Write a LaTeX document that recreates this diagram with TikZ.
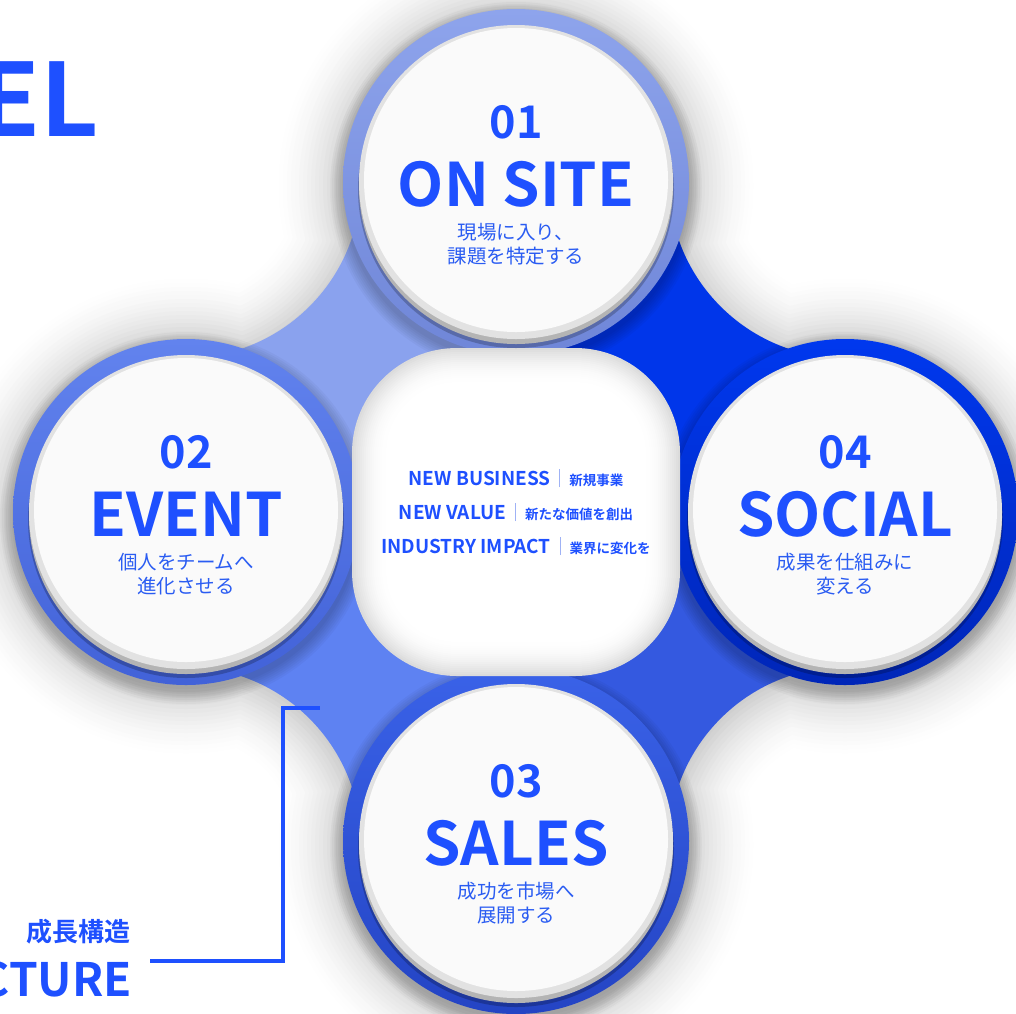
\documentclass[tikz,border=0pt]{standalone}
\usepackage{fontspec}
\setmainfont{Noto Sans CJK JP}[BoldFont={Noto Sans CJK JP Bold}]
\definecolor{txtblue}{HTML}{1E50FF}
\definecolor{subblue}{HTML}{2A5CF2}
\definecolor{barc}{HTML}{9FB2F5}
\definecolor{qTL}{HTML}{8AA2EE}
\definecolor{qTR}{HTML}{0036EA}
\definecolor{qBL}{HTML}{5E82F2}
\definecolor{qBR}{HTML}{3459E0}
\definecolor{rimdark}{HTML}{B4B4B4}
\definecolor{rimlight}{HTML}{E2E2E2}
\definecolor{face}{HTML}{FAFAFA}
\definecolor{r1t}{HTML}{8EA4EC}\definecolor{r1b}{HTML}{6F86D8}
\definecolor{r2t}{HTML}{6283EE}\definecolor{r2b}{HTML}{4262D8}
\definecolor{r4t}{HTML}{0038EE}\definecolor{r4b}{HTML}{0026B8}
\definecolor{r3t}{HTML}{3A62E8}\definecolor{r3b}{HTML}{2444C4}
\newcommand\sepbar{\hspace{9pt}{\color{barc}\rule[-2pt]{1pt}{18pt}}\hspace{9pt}}
\newcommand\midjpfont{\bfseries\fontsize{13.5}{13.5}\selectfont}
\begin{document}
\begin{tikzpicture}[x=1pt,y=-1pt,
  numtxt/.style={font=\bfseries\fontsize{45}{45}\selectfont, text=txtblue, anchor=base, inner sep=0pt},
  ttltxt/.style={font=\bfseries\fontsize{60}{60}\selectfont, text=txtblue, anchor=base, inner sep=0pt},
  subtxt/.style={font=\fontsize{19.5}{20}\selectfont, text=subblue, anchor=base, inner sep=0pt},
  midtxt/.style={font=\bfseries\fontsize{19}{19}\selectfont, text=txtblue, anchor=base, inner sep=0pt},
  bigtxt/.style={font=\bfseries, text=txtblue, inner sep=0pt},
  conn/.style={draw=txtblue, line width=3.4pt}]
\useasboundingbox (0,0) rectangle (1016,1013);
\fill[white] (0,0) rectangle (1016,1013);
% soft shadow of the whole blue shape
\foreach \d in {72,68,...,0}{
  \pgfmathsetmacro\p{19*(1-\d/72)^1.7}
  \pgfmathsetmacro\ra{173+\d}
  \pgfmathsetmacro\rc{176-\d}
  \begin{scope}[shift={(0,4)}]
    \fill[black!\p!white] (516,182) circle (\ra pt) (186,512) circle (\ra pt)
      (845,512) circle (\ra pt) (516,841) circle (\ra pt);
    \begin{scope}
      \clip (185,182) rectangle (845,843);
      \fill[black!\p!white, even odd rule] (160,160) rectangle (870,870)
        (185,182) circle (\rc pt) (845,182) circle (\rc pt)
        (185,843) circle (\rc pt) (845,843) circle (\rc pt);
    \end{scope}
  \end{scope}
}
% blue quadrants
\begin{scope}\clip (185,182) rectangle (516,512);
  \fill[qTL, even odd rule] (160,160) rectangle (530,530) (185,182) circle (176pt);\end{scope}
\begin{scope}\clip (516,182) rectangle (845,512);
  \fill[qTR, even odd rule] (500,160) rectangle (870,530) (845,182) circle (176pt);\end{scope}
\begin{scope}\clip (185,512) rectangle (516,843);
  \fill[qBL, even odd rule] (160,500) rectangle (530,870) (185,843) circle (176pt);\end{scope}
\begin{scope}\clip (516,512) rectangle (845,843);
  \fill[qBR, even odd rule] (500,500) rectangle (870,870) (845,843) circle (176pt);\end{scope}
% drop shadows of discs
\foreach \cx/\cy in {516/182,186/512,845/512,516/841}{
  \foreach \k in {1,...,7}{
    \pgfmathsetmacro\rr{172+2*\k}
    \fill[black, opacity=0.03] (\cx,\cy+6) circle (\rr pt);
  }
}
% rings
\shade[top color=r1t, bottom color=r1b] (516,182) circle (173pt);
\shade[top color=r2t, bottom color=r2b] (186,512) circle (173pt);
\shade[top color=r4t, bottom color=r4b] (845,512) circle (173pt);
\shade[top color=r3t, bottom color=r3b] (516,841) circle (173pt);
% center blob with soft inner shading
\foreach \d in {0,2,...,36}{
  \pgfmathsetmacro\p{14*(1-\d/36)^2}
  \pgfmathsetmacro\h{164-\d}
  \pgfmathsetmacro\rc{105-\d}
  \fill[black!\p!white, rounded corners=\rc pt] (516-\h,512-\h) rectangle (516+\h,512+\h);
}
% white faces
\foreach \cx/\cy in {516/182,186/512,845/512,516/841}{
  \fill[black, opacity=0.22] (\cx,\cy+8) circle (158pt);
  \fill[rimdark] (\cx,\cy+5) circle (157pt);
  \fill[rimlight] (\cx,\cy) circle (157pt);
  \fill[face] (\cx,\cy-2) circle (152pt);
}
% circle texts
\foreach \n/\cx/\cy/\num/\ttl/\sa/\sb in {
  onsite/516/182/01/ON SITE/現場に入り、/課題を特定する,
  event/186/512/02/EVENT/個人をチームへ/進化させる,
  social/845/512/04/SOCIAL/成果を仕組みに/変える,
  sales/516/841/03/SALES/成功を市場へ/展開する}{
  \node[numtxt] (\n-num) at (\cx,\cy-44) {\num};
  \node[ttltxt] (\n-ttl) at (\cx,\cy+24) {\ttl};
  \node[subtxt] (\n-s1) at (\cx,\cy+57) {\sa};
  \node[subtxt] (\n-s2) at (\cx,\cy+81) {\sb};
}
% center texts
\node[midtxt] (m1) at (516,485) {NEW BUSINESS\sepbar{\midjpfont 新規事業}};
\node[midtxt] (m2) at (516,519) {NEW VALUE\sepbar{\midjpfont 新たな価値を創出}};
\node[midtxt] (m3) at (516,553) {INDUSTRY IMPACT\sepbar{\midjpfont 業界に変化を}};
% side texts
\node[bigtxt, font=\bfseries\fontsize{101}{101}\selectfont, anchor=base east] (el) at (99,136) {EL};
\node[bigtxt, font=\bfseries\fontsize{26}{26}\selectfont, anchor=base east] (seicho) at (131,941) {成長構造};
\node[bigtxt, font=\bfseries\fontsize{46}{46}\selectfont, anchor=base east] (cture) at (132,996) {CTURE};
% connector
\coordinate (c1) at (150,961);
\coordinate (c2) at (320,708);
\draw[conn] (c1) -- ++(133,0) |- (c2);
\end{tikzpicture}
\end{document}
